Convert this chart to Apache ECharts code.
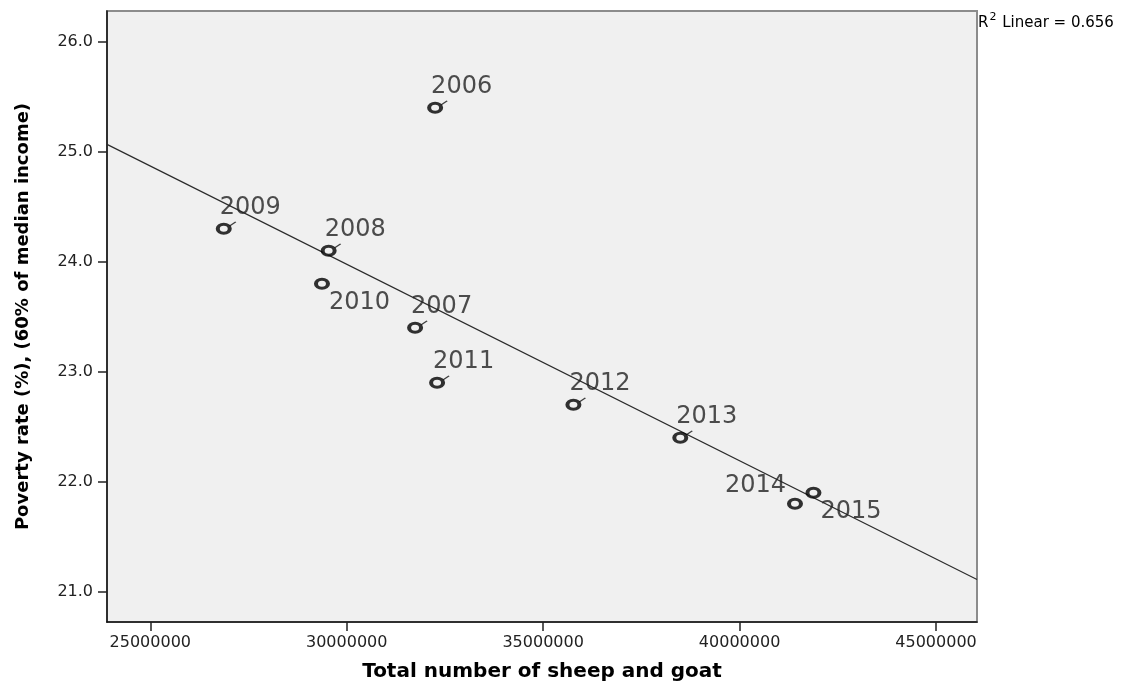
<!DOCTYPE html>
<html>
<head>
<meta charset="utf-8">
<script src="https://cdn.jsdelivr.net/npm/echarts@6/dist/echarts.min.js"></script>
<style>
html,body{margin:0;padding:0;background:#fff;}
#chart{width:1142px;height:686px;}
</style>
</head>
<body>
<div id="chart"></div>
<script>
// ---- data ----
const years = ['2006','2007','2008','2009','2010','2011','2012','2013','2014','2015'];
const sheepAndGoat = [32250000, 31740000, 29540000, 26870000, 29370000, 32300000, 35770000, 38490000, 41410000, 41880000];
const povertyRate = [25.4, 23.4, 24.1, 24.3, 23.8, 22.9, 22.7, 22.4, 21.8, 21.9];
const xTickValues = [25000000, 30000000, 35000000, 40000000, 45000000];
const yTickValues = [21, 22, 23, 24, 25, 26];

// ---- layout / style (not data) ----
const xMin = 23898000, xMax = 46043000;
const yMin = 20.725, yMax = 26.28;
const labelSide = { '2010': 'below', '2015': 'below', '2014': 'left' };
const FONT = 'DejaVu Sans';

// least-squares fit from the data
const n = years.length;
const mx = sheepAndGoat.reduce((a, b) => a + b, 0) / n;
const my = povertyRate.reduce((a, b) => a + b, 0) / n;
let sxy = 0, sxx = 0, syy = 0;
for (let i = 0; i < n; i++) {
  const dx = sheepAndGoat[i] - mx, dy = povertyRate[i] - my;
  sxy += dx * dy; sxx += dx * dx; syy += dy * dy;
}
const slope = sxy / sxx;
const intercept = my - slope * mx;
const r2 = (sxy * sxy) / (sxx * syy);

function labelFor(year) {
  const side = labelSide[year] || 'above';
  if (side === 'below') return { align: 'left', offset: [7, 19] };
  if (side === 'left') return { align: 'right', offset: [-9, -18] };
  return { align: 'left', offset: [-4, -21] };
}

const pointData = years.map((y, i) => {
  const l = labelFor(y);
  return {
    value: [sheepAndGoat[i], povertyRate[i]],
    name: y,
    label: { align: l.align, offset: l.offset }
  };
});
const leaderData = years
  .map((y, i) => ({ y, v: [sheepAndGoat[i], povertyRate[i]] }))
  .filter(d => !labelSide[d.y])
  .map(d => d.v);

const chart = echarts.init(document.getElementById('chart'));
chart.setOption({
  backgroundColor: '#ffffff',
  animation: false,
  grid: {
    left: 107, right: 165, top: 11, bottom: 64,
    show: true, backgroundColor: '#f0f0f0', borderColor: '#8c8c8c', borderWidth: 2,
    outerBoundsMode: 'none'
  },
  xAxis: {
    type: 'value', min: xMin, max: xMax,
    name: 'Total number of sheep and goat',
    nameLocation: 'middle', nameGap: 40,
    nameTextStyle: { fontFamily: FONT, fontWeight: 'bold', fontSize: 20, color: '#000' },
    axisLine: { show: true, onZero: false, lineStyle: { color: '#111', width: 1.5 } },
    axisTick: { show: true, inside: false, customValues: xTickValues, length: 9, lineStyle: { color: '#222', width: 1.5 } },
    axisLabel: { customValues: xTickValues, margin: 13, formatter: v => Number(v).toFixed(0),
      fontFamily: FONT, fontSize: 16, color: '#222' },
    splitLine: { show: false }
  },
  yAxis: {
    type: 'value', min: yMin, max: yMax,
    name: 'Poverty rate (%), (60% of median income)',
    nameLocation: 'middle', nameGap: 75, nameRotate: 90,
    nameTextStyle: { fontFamily: FONT, fontWeight: 'bold', fontSize: 18, color: '#000' },
    axisLine: { show: true, onZero: false, lineStyle: { color: '#111', width: 1.5 } },
    axisTick: { show: true, inside: false, customValues: yTickValues, length: 9, lineStyle: { color: '#222', width: 1.5 } },
    axisLabel: { customValues: yTickValues, margin: 14, formatter: v => Number(v).toFixed(1),
      fontFamily: FONT, fontSize: 16, color: '#222' },
    splitLine: { show: false }
  },
  series: [
    {
      type: 'line', silent: true, symbol: 'none', z: 2,
      data: [[xMin, intercept + slope * xMin], [xMax, intercept + slope * xMax]],
      lineStyle: { color: '#2a2a2a', width: 1.2 }
    },
    {
      type: 'scatter', silent: true, z: 3,
      symbol: 'path://M0,6L10,0', symbolSize: [6, 4], symbolOffset: [9, -5],
      itemStyle: { color: 'rgba(0,0,0,0)', borderColor: '#111', borderWidth: 1.3 },
      data: leaderData
    },
    {
      type: 'scatter', silent: true, z: 4,
      symbol: 'circle', symbolSize: [12, 9],
      itemStyle: { color: '#f0f0f0', borderColor: '#000', borderWidth: 3.5 },
      label: {
        show: true, position: 'inside', verticalAlign: 'middle',
        formatter: p => p.name,
        fontFamily: FONT, fontSize: 24, color: '#222'
      },
      data: pointData
    }
  ],
  graphic: [{
    type: 'text', left: 978, top: 12,
    style: {
      text: '{a|R}{s|2}{a| Linear = ' + r2.toFixed(3) + '}',
      rich: {
        a: { fontFamily: FONT, fontSize: 15, fill: '#000', verticalAlign: 'bottom', lineHeight: 19 },
        s: { fontFamily: FONT, fontSize: 11, fill: '#000', verticalAlign: 'top', padding: [0, 1, 6, 1], lineHeight: 19 }
      }
    }
  }]
});
</script>
</body>
</html>
